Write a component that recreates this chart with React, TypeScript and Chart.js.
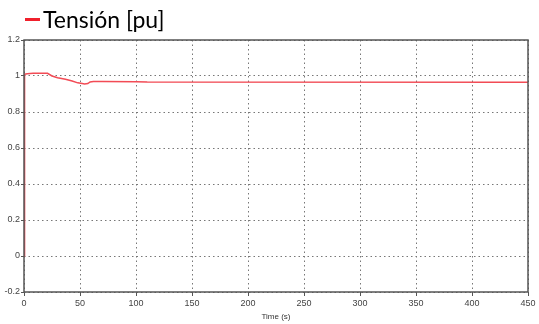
import React, { useEffect, useRef } from "react";
import { Chart, registerables } from "chart.js";

Chart.register(...registerables);

const seriesLabel = "Tensión [pu]";
const timeValues = [0, 0.5, 3, 8, 21, 25, 30, 37, 43, 48, 52, 54, 57, 59, 62, 70, 100, 110, 450];
const voltageValues = [0, 1.01, 1.013, 1.015, 1.015, 1.0, 0.99, 0.982, 0.972, 0.962, 0.958, 0.955, 0.958, 0.967, 0.97, 0.969, 0.968, 0.966, 0.965];
const xTitle = "Time (s)";
const lineColor = "#f24b55";

const frame = {
  id: "frame",
  afterDatasetsDraw(chart: any) {
    const { ctx, chartArea: a } = chart;
    ctx.save();
    ctx.strokeStyle = "#555";
    ctx.lineWidth = 1.5;
    ctx.strokeRect(a.left, a.top, a.right - a.left, a.bottom - a.top);
    ctx.restore();
  },
};

const customLegend = {
  id: "customLegend",
  afterDraw(chart: any) {
    const { ctx } = chart;
    const label = chart.data.datasets[0].label;
    ctx.save();
    ctx.fillStyle = "#f0202c";
    ctx.fillRect(25, 18, 15, 3);
    ctx.fillStyle = "#000";
    ctx.font = "23px Lato, 'Noto Sans', sans-serif";
    ctx.textBaseline = "alphabetic";
    ctx.textAlign = "left";
    ctx.fillText(label, 43, 28);
    ctx.restore();
  },
};

export default function App() {
  const ref = useRef<HTMLCanvasElement>(null);
  useEffect(() => {
    document.body.style.margin = "0";
    const data = timeValues.map((t, i) => ({ x: t, y: voltageValues[i] }));
    const chart = new Chart(ref.current!, {
      type: "scatter",
      data: {
        datasets: [
          {
            label: seriesLabel,
            data,
            showLine: true,
            borderColor: lineColor,
            backgroundColor: lineColor,
            borderWidth: 1.5,
            pointRadius: 0,
            tension: 0,
          },
        ],
      },
      options: {
        animation: false,
        responsive: false,
        layout: { padding: { left: 0, right: 11, top: 40, bottom: 0 } },
        plugins: {
          tooltip: { enabled: false },
          legend: { display: false },
        },
        scales: {
          x: {
            type: "linear",
            min: 0,
            max: 450,
            afterFit: (s: any) => {
              s.height = 32;
            },
            ticks: {
              stepSize: 50,
              color: "#444",
              padding: 2,
              maxRotation: 0,
              font: { family: "'Liberation Sans', Arial, sans-serif", size: 9 },
            },
            title: {
              display: true,
              text: xTitle,
              color: "#333",
              padding: { top: 0, bottom: 2 },
              font: { family: "'Liberation Sans', Arial, sans-serif", size: 8 },
            },
            grid: {
              color: "#777",
              tickLength: 4,
              tickColor: "#555",
              tickBorderDash: [],
            } as any,
            border: { display: false, dash: [1.5, 3] },
          },
          y: {
            min: -0.2,
            max: 1.2,
            afterFit: (s: any) => {
              s.width = 24;
            },
            ticks: {
              stepSize: 0.2,
              color: "#444",
              padding: 1,
              font: { family: "'Liberation Sans', Arial, sans-serif", size: 9 },
              callback: (v: any) => String(Math.round(Number(v) * 10) / 10),
            },
            grid: {
              color: "#777",
              tickLength: 3,
              tickColor: "#555",
              tickBorderDash: [],
            } as any,
            border: { display: false, dash: [1.5, 3] },
          },
        },
      },
      plugins: [frame, customLegend],
    });
    return () => chart.destroy();
  }, []);
  return (
    <div style={{ position: "absolute", left: 0, top: 0, width: 539, height: 324, background: "#fff" }}>
      <canvas ref={ref} width={539} height={324} />
    </div>
  );
}
